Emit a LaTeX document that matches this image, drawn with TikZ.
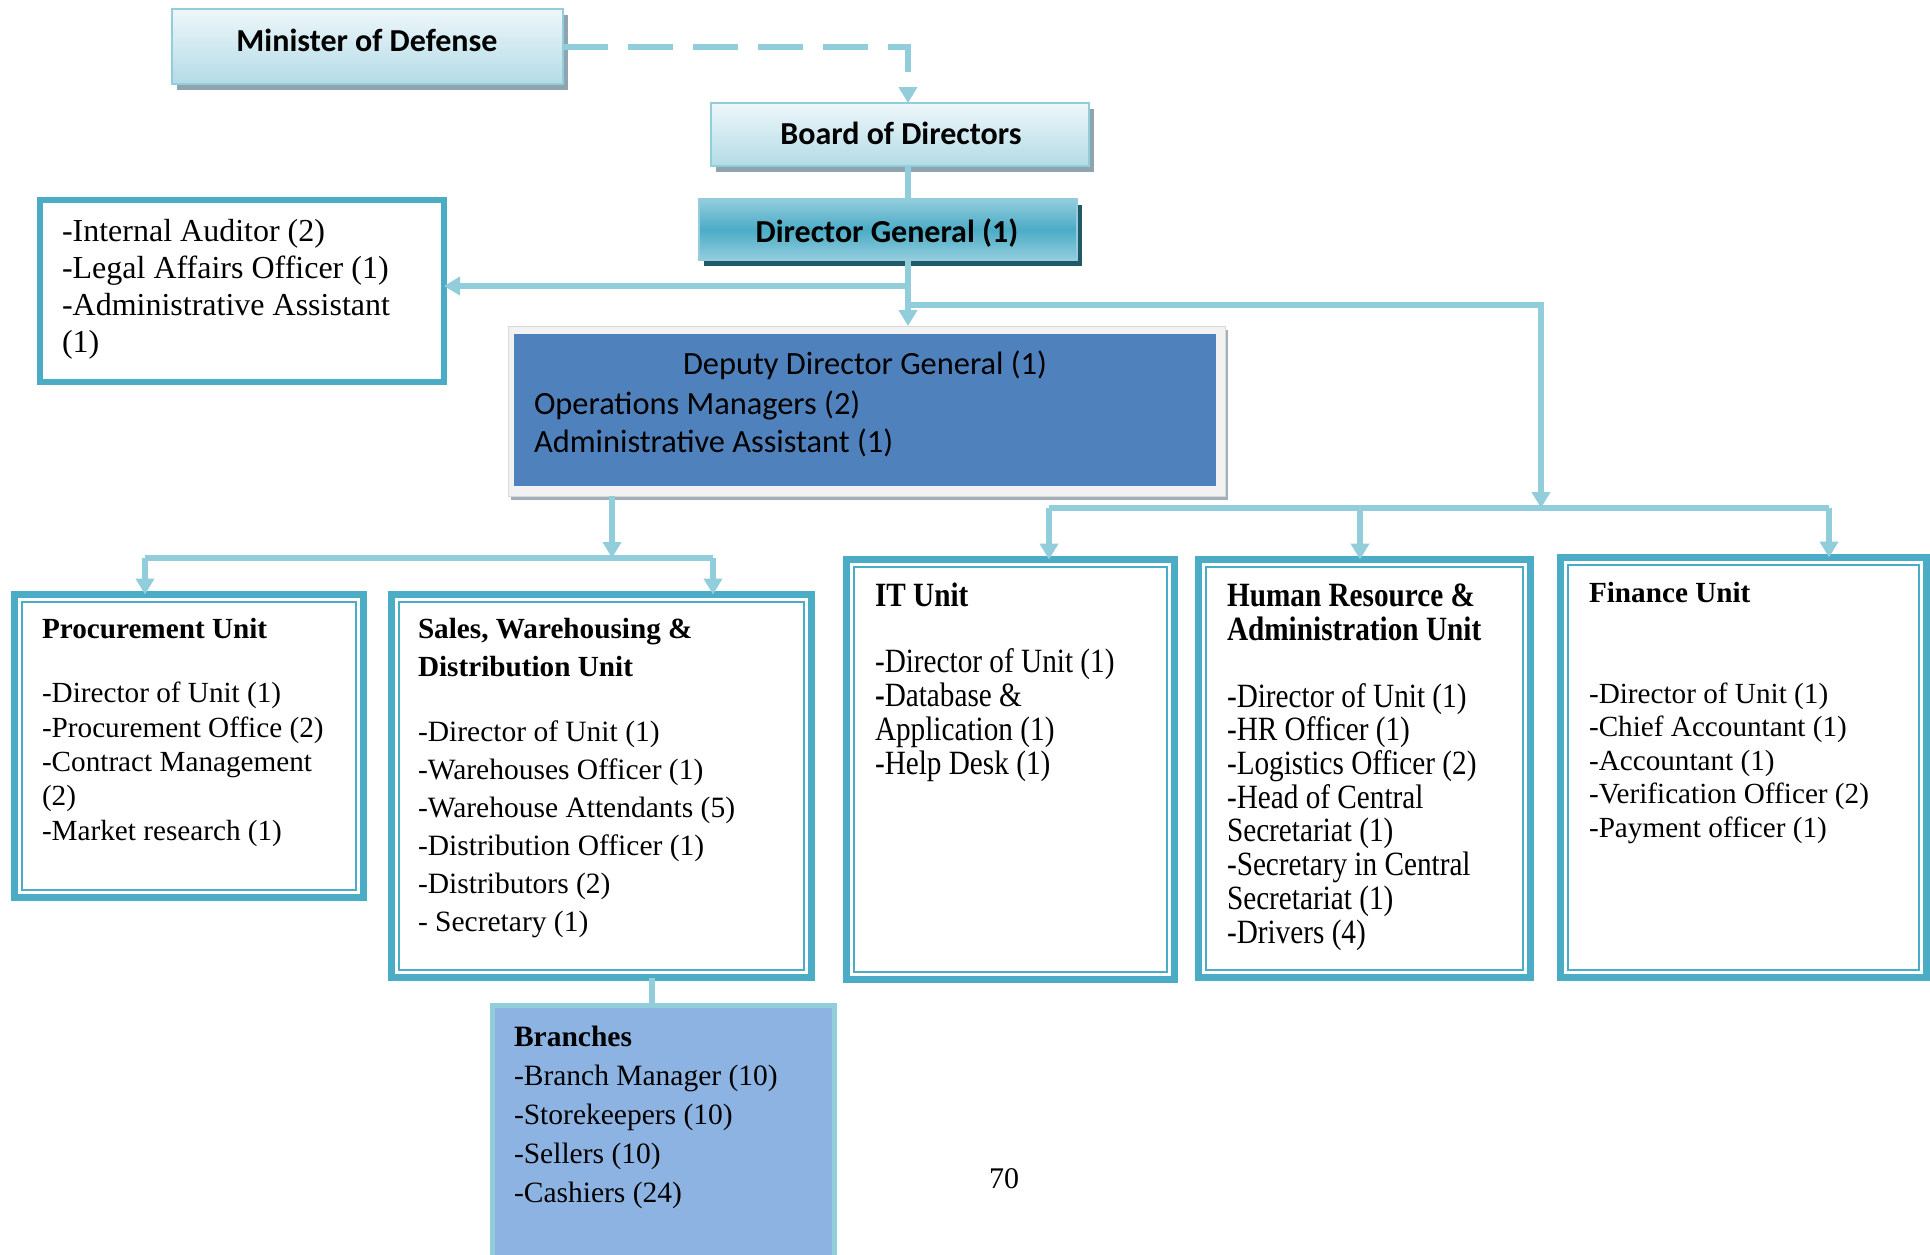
\documentclass[tikz,border=0pt]{standalone}
\usepackage{fontspec}
\setmainfont{Liberation Serif}
\newfontfamily\calfont{Carlito}
\newfontfamily\condfont[FakeStretch=0.86]{Liberation Serif}
\usetikzlibrary{arrows.meta,shadows}
\definecolor{tealA}{HTML}{4BACC6}
\definecolor{lineblue}{HTML}{92CDDC}
\definecolor{mtop}{HTML}{EEF7FA}
\definecolor{mbot}{HTML}{B3DBE6}
\definecolor{shgray}{HTML}{8FA4AE}
\definecolor{dgmid}{HTML}{4BACC6}
\definecolor{dglight}{HTML}{93CDDD}
\definecolor{dgshadow}{HTML}{215967}
\definecolor{ddgblue}{HTML}{4F81BD}
\definecolor{ddgframe}{HTML}{F2F2F2}
\definecolor{ddgshadow}{HTML}{A3AEBB}
\definecolor{branchfill}{HTML}{8DB3E2}
\begin{document}
\begin{tikzpicture}[x=0.5pt,y=-0.5pt,
  conn/.style={draw=lineblue, line width=2.75pt},
  arr/.style={-{Triangle[width=9pt,length=8pt]}},
  topbox/.style={draw=lineblue, line width=1pt, top color=mtop, bottom color=mbot,
     drop shadow={shadow xshift=2.5pt,shadow yshift=-3pt,fill=shgray,opacity=1},
     inner sep=0, outer sep=0},
  toptext/.style={anchor=base, inner sep=0, font={\calfont\bfseries\fontsize{16}{19}\selectfont}},
  unitbox/.style={draw=tealA, line width=3.5pt, fill=white, inner sep=0, outer sep=0},
  innerline/.style={draw=tealA, line width=1.1pt},
  body/.style={anchor=base west, inner sep=0, outer sep=0, align=left},
]
\useasboundingbox (0,0) rectangle (1930,1254);
\clip (0,0) rectangle (1930,1254);
\fill[white] (0,0) rectangle (1930,1254);

% top boxes
\node[topbox, minimum width=195.5pt, minimum height=37.5pt] (min) at (367.5,46.5) {};
\node[toptext] (mint) at (367,51) {Minister of Defense};
\node[topbox, minimum width=189pt, minimum height=31.5pt] (bod) at (900,134.5) {};
\node[toptext] (bodt) at (901,144.5) {Board of Directors};
\node[draw=dglight, line width=1pt, top color=dglight, bottom color=dglight, middle color=dgmid,
      drop shadow={shadow xshift=2.5pt,shadow yshift=-3pt,fill=dgshadow,opacity=1},
      inner sep=0, outer sep=0, minimum width=189pt, minimum height=30.5pt] (dg) at (888,229.5) {};
\node[toptext] (dgt) at (887,242) {Director General (1)};

% auxiliary staff box
\node[draw=tealA, line width=3pt, fill=white, minimum width=202pt, minimum height=91pt, inner sep=0, outer sep=0] (aux) at (242,291) {};
\node[body, font={\fontsize{16}{18.5}\selectfont}] (auxtext) at (62,352)
  {-Internal Auditor (2)\\-Legal Affairs Officer (1)\\-Administrative Assistant\\(1)};

% deputy director general
\node[fill=ddgframe, draw=black!15, line width=0.5pt, minimum width=358.5pt, minimum height=85pt,
      inner sep=0, outer sep=0,
      drop shadow={shadow xshift=1.5pt,shadow yshift=-2pt,fill=ddgshadow,opacity=1}] (ddg) at (866.5,411) {};
\node[fill=ddgblue, minimum width=351pt, minimum height=76pt, inner sep=0] (ddgin) at (865,410) {};
\node[anchor=base, inner sep=0, font={\calfont\fontsize{16.2}{19}\selectfont}] (ddgt1) at (865,374.5) {Deputy Director General (1)};
\node[body, font={\calfont\fontsize{16.2}{19}\selectfont}] (ddgt2) at (534,452) {Operations Managers (2)\\Administrative Assistant (1)};

% unit boxes
\node[unitbox, minimum width=174.5pt, minimum height=151.5pt] (proc) at (189,746) {};
\node[unitbox, minimum width=210pt, minimum height=191.5pt] (sales) at (601.5,786) {};
\node[unitbox, minimum width=164pt, minimum height=210pt] (it) at (1010.5,769.5) {};
\node[unitbox, minimum width=166pt, minimum height=209pt] (hr) at (1364.5,768.5) {};
\node[unitbox, minimum width=183pt, minimum height=210pt] (fin) at (1743.5,767.5) {};
\foreach \n in {proc,sales,it,hr,fin}
  \draw[innerline] ([shift={(7.5,7.5)}]\n.north west) rectangle ([shift={(-7.5,-7.5)}]\n.south east);

% branches
\node[draw=lineblue, line width=2.5pt, fill=branchfill, minimum width=171pt, minimum height=142pt, inner sep=0, outer sep=0] (br) at (663.5,1147.75) {};

% unit texts (base west = baseline of the last line)
\node[body, font={\bfseries\fontsize{14.6}{17.15}\selectfont}] (proct) at (42,638) {Procurement Unit};
\node[body, font={\fontsize{14.6}{17.15}\selectfont}] (procb) at (42,840)
  {-Director of Unit (1)\\-Procurement Office (2)\\-Contract Management\\(2)\\-Market research (1)};

\node[body, font={\bfseries\fontsize{14.6}{19}\selectfont}] (salest) at (418,676) {Sales, Warehousing \&\\Distribution Unit};
\node[body, font={\fontsize{14.75}{19}\selectfont}] (salesb) at (418,931)
  {-Director of Unit (1)\\-Warehouses Officer (1)\\-Warehouse Attendants (5)\\-Distribution Officer (1)\\-Distributors (2)\\- Secretary (1)};

\node[body, font={\condfont\bfseries\fontsize{17}{17}\selectfont}] (itt) at (875,606) {IT Unit};
\node[body, font={\condfont\fontsize{17}{17}\selectfont}] (itb) at (875,774)
  {-Director of Unit (1)\\\textbf{-}Database \&\\Application (1)\\-Help Desk (1)};

\node[body, font={\condfont\bfseries\fontsize{17}{17}\selectfont}] (hrt) at (1227,640) {Human Resource \&\\Administration Unit};
\node[body, font={\condfont\fontsize{17}{16.85}\selectfont}] (hrb) at (1227,943)
  {-Director of Unit (1)\\-HR Officer (1)\\-Logistics Officer (2)\\-Head of Central\\Secretariat (1)\\-Secretary in Central\\Secretariat (1)\\-Drivers (4)};

\node[body, font={\bfseries\fontsize{14.6}{16.75}\selectfont}] (fint) at (1589,602) {Finance Unit};
\node[body, font={\fontsize{14.6}{16.75}\selectfont}] (finb) at (1589,837)
  {-Director of Unit (1)\\-Chief Accountant (1)\\-Accountant (1)\\-Verification Officer (2)\\-Payment officer (1)};

\node[body, font={\fontsize{14.75}{19.5}\selectfont}] (brt) at (514,1202)
  {\textbf{Branches}\\-Branch Manager (10)\\-Storekeepers (10)\\-Sellers (10)\\-Cashiers (24)};

\node[anchor=base, inner sep=0, font={\fontsize{15}{18}\selectfont}] (page) at (1004,1188) {70};

% connector coordinates
\coordinate (spine) at (908,0);
\coordinate (j1) at (908,286);
\coordinate (j2) at (908,305);
\coordinate (j4) at (1541,508);
\coordinate (r1) at (1049,508);
\coordinate (r2) at (1360,508);
\coordinate (r3) at (1829,508);
\coordinate (k1) at (612,558);
\coordinate (k2) at (145,558);
\coordinate (k3) at (713,558);
\coordinate (b1) at (652,0);

% connectors
\draw[draw=lineblue, line width=3pt, dash pattern=on 22.5pt off 10pt, arr] (min.east) -| (spine |- bod.north);
\draw[conn] (spine |- bod.south) -- (spine |- dg.north);
\draw[conn, arr] (spine |- dg.south) -- (spine |- ddg.north);
\draw[conn, arr] (j1) -- (j1 -| aux.east);
\draw[conn, arr] (j2) -| (j4);
\draw[conn] (r1) -- (r3);
\draw[conn, arr] (r1) -- (r1 |- it.north);
\draw[conn, arr] (r2) -- (r2 |- hr.north);
\draw[conn, arr] (r3) -- (r3 |- fin.north);
\draw[conn, arr] (k1 |- ddg.south) -- (k1);
\draw[conn] (k2) -- (k3);
\draw[conn, arr] (k2) -- (k2 |- proc.north);
\draw[conn, arr] (k3) -- (k3 |- sales.north);
\draw[conn] (b1 |- sales.south) -- (b1 |- br.north);
\end{tikzpicture}
\end{document}
